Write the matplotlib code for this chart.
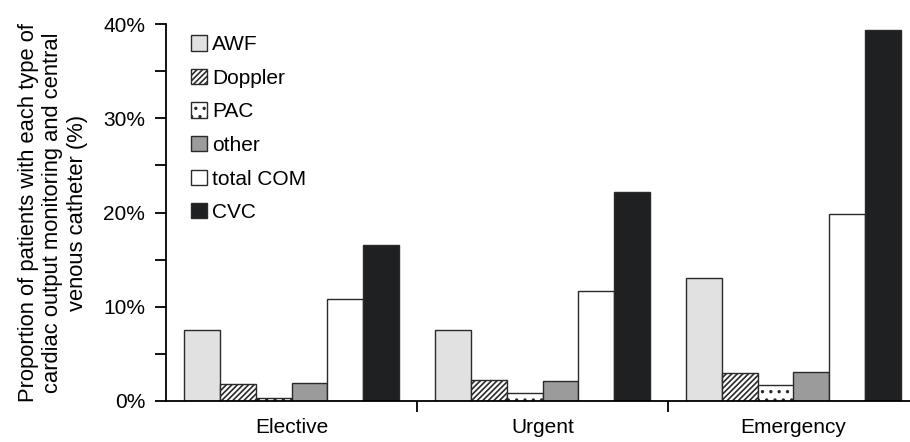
import numpy as np
import matplotlib.pyplot as plt
from matplotlib.ticker import MultipleLocator

groups = ['Elective', 'Urgent', 'Emergency']
series = ['AWF', 'Doppler', 'PAC', 'other', 'total COM', 'CVC']
awf = [7.5, 7.5, 13.0]
doppler = [1.8, 2.2, 3.0]
pac = [0.3, 0.8, 1.7]
other = [1.9, 2.1, 3.1]
total_com = [10.8, 11.7, 19.8]
cvc = [16.5, 22.2, 39.4]

values = [awf, doppler, pac, other, total_com, cvc]
colors = ['#e1e1e1', 'white', 'white', '#9b9b9b', 'white', '#1f2022']
hatches = [None, '//////', '..', None, None, None]

plt.rcParams['font.family'] = 'Liberation Sans'
plt.rcParams['hatch.linewidth'] = 1.2

fig = plt.figure(figsize=(9.1, 4.42), dpi=100)
ax = fig.add_axes([166 / 910, 41 / 442, 1 - 166 / 910, 377 / 442])

x = np.arange(len(groups))
w = 1 / 7
for i, (name, vals) in enumerate(zip(series, values)):
    ax.bar(x - 2.5 * w + i * w, vals, width=w, color=colors[i], hatch=hatches[i],
           edgecolor='#2a2a2a', linewidth=1.0, label=name)

ax.set_xlim(-0.5, (910 - 166) / 251 - 0.5)
ax.set_ylim(0, 40)
ax.yaxis.set_major_locator(MultipleLocator(10))
ax.yaxis.set_minor_locator(MultipleLocator(5))
ax.set_yticklabels([f'{int(t)}%' for t in ax.get_yticks()])
ax.set_xticks(x)
ax.set_xticklabels(groups)
ax.set_xticks([0.5, 1.5], minor=True)
ax.tick_params(axis='x', which='major', length=0, labelsize=15, pad=12)
ax.tick_params(axis='x', which='minor', length=8, width=1.3, direction='out')
ax.tick_params(axis='y', which='both', length=8, width=1.3, labelsize=15, pad=7)

for s in ['top', 'right']:
    ax.spines[s].set_visible(False)
for s in ['left', 'bottom']:
    ax.spines[s].set_linewidth(1.3)

ax.set_ylabel('Proportion of patients with each type of\ncardiac output monitoring and central\nvenous catheter (%)',
              fontsize=15.8, linespacing=1.22, labelpad=11)

leg = ax.legend(loc='upper left', bbox_to_anchor=(0.009, 1.02), frameon=False, fontsize=15,
                handlelength=0.75, handleheight=0.75, handletextpad=0.25, labelspacing=0.7)

fig.savefig('out.png', dpi=100)
